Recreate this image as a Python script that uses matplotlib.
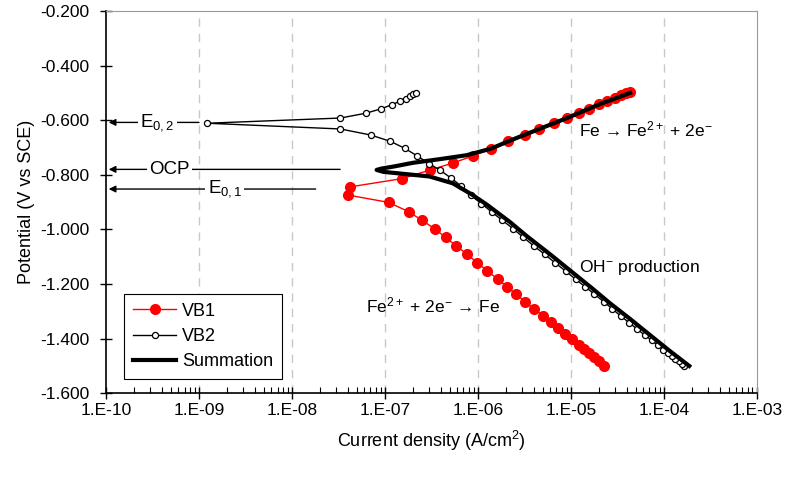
import matplotlib
matplotlib.use('Agg')
import matplotlib.pyplot as plt
import numpy as np
from matplotlib.ticker import FixedLocator, LogLocator, FuncFormatter, NullFormatter

plt.rcParams['font.family'] = ['Liberation Sans', 'DejaVu Sans']
plt.rcParams['mathtext.fontset'] = 'custom'
plt.rcParams['mathtext.rm'] = 'Liberation Sans'
plt.rcParams['mathtext.it'] = 'Liberation Sans'

# VB1 (iron dissolution / deposition), scan from -1.5 V upward
vb1_i = [2.28e-5, 2.02e-5, 1.79e-5, 1.58e-5, 1.40e-5, 1.21e-5, 1.04e-5, 8.73e-6,
         7.35e-6, 6.09e-6, 5.07e-6, 4.06e-6, 3.24e-6, 2.60e-6, 2.08e-6, 1.63e-6,
         1.27e-6, 9.9e-7, 7.68e-7, 5.89e-7, 4.49e-7, 3.42e-7, 2.49e-7, 1.80e-7,
         1.10e-7, 4.01e-8, 4.24e-8, 1.52e-7, 3.08e-7, 5.37e-7, 8.81e-7, 1.39e-6,
         2.13e-6, 3.19e-6, 4.59e-6, 6.53e-6, 9.02e-6, 1.21e-5, 1.58e-5, 2.02e-5,
         2.48e-5, 2.99e-5, 3.46e-5, 3.92e-5, 4.35e-5]
vb1_v = [-1.500, -1.482, -1.468, -1.454, -1.439, -1.422, -1.403, -1.382,
         -1.361, -1.340, -1.316, -1.292, -1.266, -1.238, -1.211, -1.182,
         -1.152, -1.123, -1.091, -1.061, -1.029, -0.997, -0.966, -0.935,
         -0.901, -0.874, -0.844, -0.814, -0.782, -0.757, -0.731, -0.704,
         -0.677, -0.654, -0.632, -0.611, -0.593, -0.575, -0.558, -0.542,
         -0.530, -0.518, -0.509, -0.501, -0.497]

# VB2 (OH- production)
vb2_i = [1.66e-4, 1.56e-4, 1.45e-4, 1.33e-4, 1.22e-4, 1.10e-4, 9.86e-5, 8.63e-5,
         7.38e-5, 6.24e-5, 5.21e-5, 4.27e-5, 3.47e-5, 2.79e-5, 2.25e-5, 1.79e-5,
         1.43e-5, 1.13e-5, 8.83e-6, 6.76e-6, 5.24e-6, 3.98e-6, 3.07e-6, 2.39e-6,
         1.84e-6, 1.42e-6, 1.09e-6, 8.39e-7, 6.67e-7, 5.16e-7, 3.96e-7, 3.00e-7,
         2.23e-7, 1.64e-7, 1.14e-7, 7.01e-8, 3.32e-8, 1.22e-9, 3.32e-8, 6.31e-8,
         9.14e-8, 1.19e-7, 1.44e-7, 1.67e-7, 1.88e-7, 2.03e-7, 2.17e-7]
vb2_v = [-1.500, -1.493, -1.483, -1.473, -1.463, -1.452, -1.440, -1.424,
         -1.406, -1.387, -1.366, -1.342, -1.318, -1.291, -1.264, -1.237,
         -1.210, -1.183, -1.153, -1.122, -1.091, -1.060, -1.028, -0.997,
         -0.967, -0.937, -0.905, -0.875, -0.842, -0.812, -0.784, -0.759,
         -0.731, -0.703, -0.677, -0.654, -0.632, -0.611, -0.592, -0.574,
         -0.558, -0.543, -0.531, -0.521, -0.512, -0.505, -0.500]

# Summation of both reactions
sum_i = [1.88e-4, 1.13e-4, 7.0e-5, 4.35e-5, 2.63e-5, 1.66e-5, 1.03e-5, 6.3e-6,
         3.35e-6, 2.2e-6, 1.27e-6, 8.81e-7, 5.37e-7, 3.02e-7, 1.44e-7, 9.6e-8,
         8.14e-8, 9.2e-8, 1.27e-7, 2.00e-7, 4.0e-7, 7.6e-7, 1.39e-6, 2.13e-6,
         4.59e-6, 8.95e-6, 2.02e-5, 4.35e-5]
sum_v = [-1.500, -1.442, -1.385, -1.328, -1.270, -1.213, -1.156, -1.097,
         -1.024, -0.972, -0.911, -0.874, -0.831, -0.806, -0.795, -0.789,
         -0.782, -0.777, -0.769, -0.756, -0.742, -0.728, -0.704, -0.677,
         -0.632, -0.593, -0.542, -0.500]

E02 = -0.608
OCP = -0.780
E01 = -0.852

fig = plt.figure(figsize=(7.85, 4.79), dpi=100)
ax = fig.add_axes([0.135, 0.179, 0.829, 0.798])

ax.plot(vb1_i, vb1_v, color='red', lw=1.0, marker='o', ms=7,
        mfc='red', mec='red', label='VB1', zorder=3)
ax.plot(vb2_i, vb2_v, color='black', lw=1.0, marker='o', ms=4.4,
        mfc='white', mec='black', mew=0.9, label='VB2', zorder=4)
ax.plot(sum_i, sum_v, color='black', lw=3.0, label='Summation', zorder=5,
        solid_joinstyle='round')

ax.set_xscale('log')
ax.set_xlim(1e-10, 1e-3)
ax.set_ylim(-1.6, -0.2)

ax.xaxis.set_major_locator(FixedLocator([10.0**k for k in range(-10, -2)]))
ax.xaxis.set_minor_locator(LogLocator(base=10, subs=np.arange(2, 10), numticks=20))
ax.xaxis.set_minor_formatter(NullFormatter())
ax.xaxis.set_major_formatter(FuncFormatter(lambda x, p: '1.E%03d' % int(round(np.log10(x)))))
ax.set_yticks(np.arange(-1.6, -0.19, 0.2))
ax.yaxis.set_major_formatter(FuncFormatter(lambda y, p: '%.3f' % y))

ax.tick_params(axis='both', which='major', direction='inout', length=8, width=1,
               labelsize=12.5, colors='black')
ax.tick_params(axis='x', which='major', pad=3)
ax.tick_params(axis='y', which='major', pad=8)
ax.tick_params(axis='x', which='minor', direction='in', length=4, width=0.8)

for k in range(-9, -3):
    ax.axvline(10.0**k, color='#c8c8c8', lw=1, ls=(0, (6, 5)), zorder=1)

for side in ['top', 'right']:
    ax.spines[side].set_color('#999999')
for side in ['left', 'bottom']:
    ax.spines[side].set_linewidth(1.2)

ax.set_xlabel('Current density (A/cm$^{2}$)', fontsize=13, labelpad=8)
ax.set_ylabel('Potential (V vs SCE)', fontsize=13, labelpad=4)

# arrows towards the potential axis
arrow = dict(arrowstyle='-|>', color='black', lw=1.0, mutation_scale=10, shrinkA=0, shrinkB=0)
ax.annotate('', xy=(1.07e-10, E02), xytext=(1.0e-9, E02), arrowprops=arrow)
ax.annotate('', xy=(1.07e-10, OCP), xytext=(3.3e-8, OCP), arrowprops=arrow)
ax.annotate('', xy=(1.07e-10, E01), xytext=(1.8e-8, E01), arrowprops=arrow)
box = dict(facecolor='white', edgecolor='none', pad=1.5)
ax.text(3.6e-10, E02, 'E$_{0,2}$', fontsize=13.5, ha='center', va='center', bbox=box, zorder=6)
ax.text(4.8e-10, OCP, 'OCP', fontsize=13.5, ha='center', va='center', bbox=box, zorder=6)
ax.text(1.9e-9, E01, 'E$_{0,1}$', fontsize=13.5, ha='center', va='center', bbox=box, zorder=6)

ax.text(1.23e-5, -0.632, 'Fe \u2192 Fe$^{2+}$ + 2e$^{-}$', fontsize=12.5, ha='left', va='center')
ax.text(1.23e-5, -1.141, 'OH$^{-}$ production', fontsize=12.5, ha='left', va='center')
ax.text(6.3e-8, -1.277, 'Fe$^{2+}$ + 2e$^{-}$ \u2192 Fe', fontsize=12.5, ha='left', va='center')

leg = ax.legend(loc='lower left', bbox_to_anchor=(124 / 785, 1 - 379 / 479), bbox_transform=fig.transFigure,
                borderaxespad=0, fontsize=13, frameon=True, fancybox=False, framealpha=1,
                edgecolor='black', borderpad=0.5, labelspacing=0.45, handlelength=2.4,
                handletextpad=0.3)
leg.get_frame().set_linewidth(0.8)

fig.savefig('out.png', dpi=100)
